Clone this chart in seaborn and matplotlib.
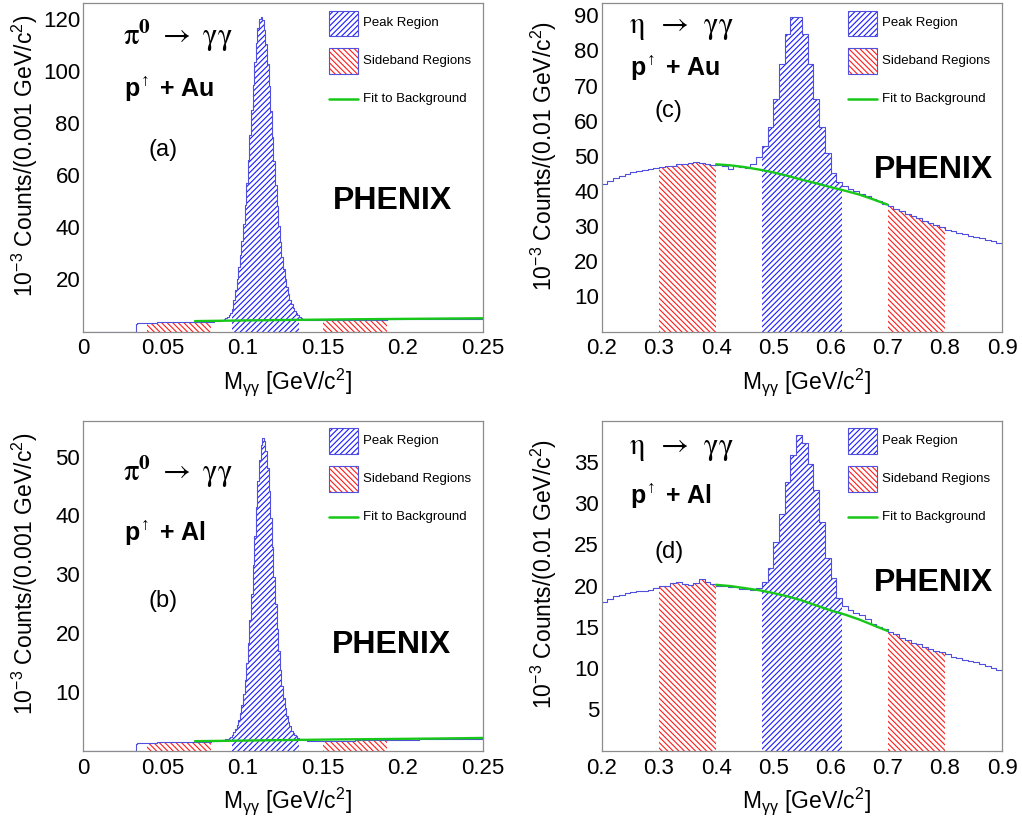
import numpy as np
import matplotlib
matplotlib.use('Agg')
import matplotlib.pyplot as plt
import seaborn as sns
from matplotlib.patches import Rectangle
from matplotlib.ticker import MultipleLocator, FixedLocator, FuncFormatter

sns.set_style('white')
plt.rcParams['font.family'] = ['Liberation Sans', 'DejaVu Sans']
plt.rcParams['text.color'] = 'black'
plt.rcParams['axes.labelcolor'] = 'black'
plt.rcParams['mathtext.fontset'] = 'custom'
plt.rcParams['mathtext.rm'] = 'Liberation Sans'
plt.rcParams['mathtext.bf'] = 'Liberation Sans:bold'
plt.rcParams['mathtext.it'] = 'Liberation Sans:italic'
plt.rcParams['hatch.linewidth'] = 0.8

# ---- pi0 histograms, 0.001 GeV bins from 0 to 0.25 ----
PI0_BINW = 0.001
PI0_AU_COUNTS = [0.0] * 33 + [
    3.0, 3.2, 3.3, 3.3, 3.4, 3.4, 3.4,
    3.4, 3.4, 3.4, 3.4, 3.4, 3.4, 3.5, 3.5, 3.5, 3.5,
    3.5, 3.5, 3.5, 3.5, 3.5, 3.5, 3.5, 3.5, 3.5, 3.5,
    3.5, 3.6, 3.6, 3.6, 3.6, 3.6, 3.6, 3.6, 3.6, 3.6,
    3.6, 3.6, 3.6, 3.7, 3.7, 3.7, 3.7, 3.7, 3.7, 3.7,
    3.8, 3.8, 3.9, 4.0, 4.1, 4.2, 4.4, 4.6, 4.8, 5.1,
    5.5, 6.2, 7.3, 8.8, 12.0, 15.8, 20.0, 24.6, 29.2, 34.8,
    41.1, 48.6, 56.8, 65.9, 75.3, 85.1, 94.5, 103.2, 110.6, 116.3,
    119.8, 120.5, 119.3, 115.8, 110.1, 102.7, 94.0, 84.6, 74.8, 65.4,
    56.3, 48.1, 40.6, 34.3, 28.7, 24.1, 20.2, 17.0, 14.4, 12.2,
    10.5, 9.0, 7.9, 7.0, 6.2, 5.6, 5.0, 4.7, 4.5, 4.4,
    4.3, 4.3, 4.3, 4.3, 4.3, 4.3, 4.3, 4.3, 4.3, 4.3,
    4.3, 4.3, 4.3, 4.3, 4.3, 4.3, 4.3, 4.3, 4.3, 4.3,
    4.4, 4.4, 4.4, 4.4, 4.4, 4.4, 4.4, 4.4, 4.4, 4.4,
    4.5, 4.5, 4.5, 4.5, 4.5, 4.5, 4.5, 4.5, 4.5, 4.5,
    4.6, 4.6, 4.6, 4.6, 4.6, 4.6, 4.6, 4.6, 4.6, 4.6,
    4.7, 4.7, 4.7, 4.7, 4.7, 4.7, 4.7, 4.7, 4.7, 4.7,
    4.7, 4.7, 4.7, 4.7, 4.7, 4.7, 4.7, 4.7, 4.7, 4.7,
    4.7, 4.7, 4.7, 4.7, 4.7, 4.7, 4.7, 4.7, 4.7, 4.7,
    4.8, 4.8, 4.8, 4.8, 4.8, 4.8, 4.8, 4.8, 4.8, 4.8,
    4.8, 4.8, 4.8, 4.8, 4.8, 4.8, 4.8, 4.8, 4.8, 4.8,
    4.8, 4.8, 4.8, 4.8, 4.8, 4.8, 4.8, 4.8, 4.8, 4.8,
]
PI0_AL_COUNTS = [0.0] * 33 + [
    1.2, 1.3, 1.3, 1.3, 1.3, 1.3, 1.3,
    1.3, 1.3, 1.3, 1.3, 1.3, 1.3, 1.4, 1.4, 1.4, 1.4,
    1.4, 1.4, 1.4, 1.4, 1.4, 1.4, 1.4, 1.4, 1.4, 1.4,
    1.4, 1.4, 1.4, 1.4, 1.4, 1.4, 1.5, 1.5, 1.5, 1.5,
    1.5, 1.5, 1.5, 1.5, 1.5, 1.5, 1.5, 1.5, 1.5, 1.5,
    1.55, 1.55, 1.55, 1.55, 1.6, 1.65, 1.7, 1.75, 1.8, 1.9,
    2.0, 2.15, 2.35, 2.7, 3.1, 3.6, 4.3, 5.2, 6.4, 7.8,
    9.7, 12.0, 14.9, 18.3, 22.2, 26.7, 31.5, 36.5, 41.4, 45.8,
    49.4, 51.9, 53.1, 52.7, 51.0, 48.1, 44.1, 39.5, 34.6, 29.6,
    24.9, 20.6, 16.9, 13.7, 11.0, 8.9, 7.2, 5.9, 4.9, 4.1,
    3.4, 3.0, 2.6, 2.4, 2.2, 2.05, 1.95, 1.9, 1.85, 1.8,
    1.7, 1.7, 1.7, 1.7, 1.7, 1.7, 1.7, 1.7, 1.7, 1.7,
    1.7, 1.7, 1.7, 1.7, 1.7, 1.7, 1.7, 1.7, 1.7, 1.7,
    1.7, 1.7, 1.7, 1.7, 1.7, 1.7, 1.7, 1.7, 1.7, 1.7,
    1.8, 1.8, 1.8, 1.8, 1.8, 1.8, 1.8, 1.8, 1.8, 1.8,
    1.8, 1.8, 1.8, 1.8, 1.8, 1.8, 1.8, 1.8, 1.8, 1.8,
    1.8, 1.8, 1.8, 1.8, 1.8, 1.8, 1.8, 1.8, 1.8, 1.8,
    1.8, 1.8, 1.8, 1.8, 1.8, 1.8, 1.8, 1.8, 1.8, 1.8,
    1.9, 1.9, 1.9, 1.9, 1.9, 1.9, 1.9, 1.9, 1.9, 1.9,
    1.9, 1.9, 1.9, 1.9, 1.9, 1.9, 1.9, 1.9, 1.9, 1.9,
    1.9, 1.9, 1.9, 1.9, 1.9, 1.9, 1.9, 1.9, 1.9, 1.9,
    1.9, 1.9, 1.9, 1.9, 1.9, 1.9, 1.9, 1.9, 1.9, 1.9,
]
PI0_FIT_X = [0.07, 0.10, 0.13, 0.16, 0.19, 0.22, 0.25]
PI0_AU_FIT_Y = [4.0, 4.25, 4.45, 4.65, 4.8, 4.95, 5.1]
PI0_AL_FIT_Y = [1.6, 1.7, 1.8, 1.9, 1.97, 2.05, 2.15]
PI0_PEAK = (0.093, 0.135)
PI0_SIDEBANDS = [(0.04, 0.08), (0.15, 0.19)]

# ---- eta histograms, 0.01 GeV bins from 0.2 to 0.9 ----
ETA_BINW = 0.01
ETA_AU_COUNTS = [
    41.9, 42.8, 43.6, 44.3, 44.9, 45.3, 45.6, 45.9, 46.2, 46.5,
    46.8, 47.0, 47.2, 47.6, 47.8, 48.0, 48.2, 48.0, 47.6, 47.4,
    47.3, 47.2, 46.2, 47.0, 46.9, 46.6, 47.7, 49.8, 52.8, 58.1,
    66.1, 76.1, 84.6, 89.4, 89.4, 84.6, 76.1, 66.1, 58.1, 50.7,
    45.2, 42.7, 41.5, 40.6, 40.0, 39.2, 38.5, 37.8, 37.2, 36.4,
    35.6, 35.0, 34.2, 33.5, 32.9, 32.3, 31.6, 31.0, 30.3, 29.7,
    29.0, 28.5, 28.1, 27.7, 27.3, 26.9, 26.5, 26.1, 25.7, 25.2,
]
ETA_AL_COUNTS = [
    18.0, 18.4, 18.7, 18.9, 19.1, 19.2, 19.3, 19.4, 19.5, 19.7,
    19.9, 20.0, 20.3, 20.4, 20.2, 20.1, 20.3, 20.8, 20.5, 20.2,
    20.0, 19.9, 19.8, 19.8, 19.6, 19.6, 19.5, 19.7, 20.5, 22.2,
    25.3, 28.7, 32.6, 35.8, 38.3, 37.3, 34.8, 31.6, 27.7, 23.4,
    20.9, 18.5, 17.5, 17.1, 16.7, 16.4, 15.9, 15.3, 15.0, 14.7,
    14.4, 14.1, 13.7, 13.4, 13.1, 12.9, 12.6, 12.3, 12.1, 11.9,
    11.7, 11.4, 11.2, 11.0, 10.9, 10.8, 10.5, 10.3, 10.0, 9.8,
]
ETA_FIT_X = [0.400, 0.425, 0.450, 0.475, 0.500, 0.525, 0.550,
             0.575, 0.600, 0.625, 0.650, 0.675, 0.700]
ETA_AU_FIT_Y = [47.6, 47.3, 46.8, 46.1, 45.3, 44.3, 43.2,
                42.2, 41.1, 40.1, 39.0, 37.6, 36.1]
ETA_AL_FIT_Y = [20.1, 19.95, 19.7, 19.45, 19.1, 18.7, 18.2,
                17.6, 17.0, 16.5, 15.9, 15.2, 14.5]
ETA_PEAK = (0.48, 0.62)
ETA_SIDEBANDS = [(0.30, 0.40), (0.70, 0.80)]

HIST_BLUE = '#5050dc'
PEAK_BLUE = '#1a1aff'
SIDE_RED = '#ff1a1a'
FIT_GREEN = '#18c818'
FRAME_GRAY = '#8c8c8c'
PEAK_HATCH = '/' * 6
SIDE_HATCH = '\\' * 6


def fill_region(ax, edges, counts, lo, hi, color, hatch):
    left = edges[:-1]
    sel = (left >= lo - 1e-9) & (left < hi - 1e-9)
    xs = np.append(left[sel], hi)
    ys = np.append(counts[sel], counts[sel][-1])
    ax.fill_between(xs, 0, ys, step='post', facecolor='none',
                    edgecolor=color, hatch=hatch, linewidth=0)


def draw_legend(ax):
    x0, w = 0.615, 0.072
    ax.add_patch(Rectangle((x0, 0.90), w, 0.077, transform=ax.transAxes,
                           facecolor='none', edgecolor=PEAK_BLUE, hatch=PEAK_HATCH, lw=0))
    ax.add_patch(Rectangle((x0, 0.90), w, 0.077, transform=ax.transAxes,
                           facecolor='none', edgecolor=HIST_BLUE, lw=0.8))
    ax.add_patch(Rectangle((x0, 0.785), w, 0.077, transform=ax.transAxes,
                           facecolor='none', edgecolor=SIDE_RED, hatch=SIDE_HATCH, lw=0))
    ax.add_patch(Rectangle((x0, 0.785), w, 0.077, transform=ax.transAxes,
                           facecolor='none', edgecolor=HIST_BLUE, lw=0.8))
    ax.plot([x0, x0 + w], [0.709, 0.709], transform=ax.transAxes,
            color=FIT_GREEN, lw=1.8)
    ax.text(0.70, 0.9385, 'Peak Region', transform=ax.transAxes, fontsize=9.5, va='center')
    ax.text(0.70, 0.8235, 'Sideband Regions', transform=ax.transAxes, fontsize=9.5, va='center')
    ax.text(0.70, 0.709, 'Fit to Background', transform=ax.transAxes, fontsize=9.5, va='center')


def draw_panel(ax, lo, binw, counts, fit_x, fit_y, peak, sidebands,
               xlim, ylim, xmajor, xminor, ymajor, yminor, ylabel):
    counts = np.asarray(counts, dtype=float)
    edges = np.round(lo + binw * np.arange(len(counts) + 1), 6)
    centers = edges[:-1] + binw / 2

    for s_lo, s_hi in sidebands:
        fill_region(ax, edges, counts, s_lo, s_hi, SIDE_RED, SIDE_HATCH)
    fill_region(ax, edges, counts, peak[0], peak[1], PEAK_BLUE, PEAK_HATCH)

    sns.histplot(x=centers, weights=counts, bins=list(edges), element='step',
                 fill=False, color=HIST_BLUE, linewidth=0.8, ax=ax)
    sns.lineplot(x=fit_x, y=fit_y, color=FIT_GREEN, linewidth=1.7, ax=ax)

    ax.set_xlim(*xlim)
    ax.set_ylim(*ylim)
    ax.xaxis.set_major_locator(FixedLocator(xmajor))
    ax.xaxis.set_minor_locator(MultipleLocator(xminor))
    ax.yaxis.set_major_locator(FixedLocator(ymajor))
    ax.yaxis.set_minor_locator(MultipleLocator(yminor))
    ax.xaxis.set_major_formatter(FuncFormatter(lambda v, p: f'{v:g}'))
    ax.yaxis.set_major_formatter(FuncFormatter(lambda v, p: f'{v:g}'))
    ax.tick_params(axis='both', which='both', direction='in', color=FRAME_GRAY,
                   width=0.8, labelsize=16, labelcolor='black')
    ax.tick_params(axis='y', which='major', length=8.6, pad=2)
    ax.tick_params(axis='y', which='minor', length=4.3)
    ax.tick_params(axis='x', which='major', length=7.6, pad=5)
    ax.tick_params(axis='x', which='minor', length=3.6)
    for sp in ax.spines.values():
        sp.set_color(FRAME_GRAY)
        sp.set_linewidth(0.9)

    ax.set_xlabel(r'M$_{\mathrm{\gamma\gamma}}$ [GeV/c$^{2}$]', fontsize=16.5)
    ax.xaxis.set_label_coords(0.51, -0.105)
    ax.set_ylabel(ylabel, fontsize=16.5)
    ax.yaxis.set_label_coords(-0.1075, 0.535)
    draw_legend(ax)


fig = plt.figure(figsize=(10.22, 8.18), dpi=100)
ax_a = fig.add_axes([0.0812, 0.5947, 0.3914, 0.4016])
ax_c = fig.add_axes([0.5888, 0.5947, 0.3917, 0.4016])
ax_b = fig.add_axes([0.0812, 0.0824, 0.3914, 0.4033])
ax_d = fig.add_axes([0.5888, 0.0824, 0.3917, 0.4033])

pi0_ylabel = r'10$^{-3}$ Counts/(0.001 GeV/c$^{2}$)'
eta_ylabel = r'10$^{-3}$ Counts/(0.01 GeV/c$^{2}$)'
pi0_xticks = [0, 0.05, 0.1, 0.15, 0.2, 0.25]
eta_xticks = [0.2, 0.3, 0.4, 0.5, 0.6, 0.7, 0.8, 0.9]

draw_panel(ax_a, 0.0, PI0_BINW, PI0_AU_COUNTS, PI0_FIT_X, PI0_AU_FIT_Y,
           PI0_PEAK, PI0_SIDEBANDS, (0, 0.25), (0, 126), pi0_xticks, 0.01,
           [20, 40, 60, 80, 100, 120], 5, pi0_ylabel)
draw_panel(ax_b, 0.0, PI0_BINW, PI0_AL_COUNTS, PI0_FIT_X, PI0_AL_FIT_Y,
           PI0_PEAK, PI0_SIDEBANDS, (0, 0.25), (0, 56.1), pi0_xticks, 0.01,
           [10, 20, 30, 40, 50], 2, pi0_ylabel)
draw_panel(ax_c, 0.2, ETA_BINW, ETA_AU_COUNTS, ETA_FIT_X, ETA_AU_FIT_Y,
           ETA_PEAK, ETA_SIDEBANDS, (0.2, 0.9), (0, 93.5), eta_xticks, 0.02,
           [10, 20, 30, 40, 50, 60, 70, 80, 90], 2, eta_ylabel)
draw_panel(ax_d, 0.2, ETA_BINW, ETA_AL_COUNTS, ETA_FIT_X, ETA_AL_FIT_Y,
           ETA_PEAK, ETA_SIDEBANDS, (0.2, 0.9), (0, 40.0), eta_xticks, 0.02,
           [5, 10, 15, 20, 25, 30, 35], 1, eta_ylabel)

pi0_decay = r'$\mathrm{\pi}^{\mathbf{0}}\ \rightarrow\ \mathrm{\gamma\gamma}$'
eta_decay = r'$\mathrm{\eta}\ \,\rightarrow\ \,\mathrm{\gamma\gamma}$'
labels = [
    (ax_a, pi0_decay, 0.10, 0.900,
     r'p$^{\!\uparrow}$ + Au', 0.1025, 0.737, '(a)', 0.165, 0.5535, 0.625, 0.396),
    (ax_b, pi0_decay, 0.10, 0.845,
     r'p$^{\!\uparrow}$ + Al', 0.1025, 0.659, '(b)', 0.164, 0.4535, 0.623, 0.320),
    (ax_c, eta_decay, 0.069, 0.928,
     r'p$^{\!\uparrow}$ + Au', 0.0707, 0.800, '(c)', 0.131, 0.672, 0.681, 0.492),
    (ax_d, eta_decay, 0.069, 0.916,
     r'p$^{\!\uparrow}$ + Al', 0.0707, 0.770, '(d)', 0.131, 0.603, 0.681, 0.507),
]
for ax, decay, dx, dy, system, sx, sy, tag, tx, ty, px, py in labels:
    ax.text(dx, dy, decay, transform=ax.transAxes, fontsize=22, va='center',
            math_fontfamily='stix')
    ax.text(sx, sy, system, transform=ax.transAxes, fontsize=18, va='center',
            fontweight='bold')
    ax.text(tx, ty, tag, transform=ax.transAxes, fontsize=17, va='center')
    ax.text(px, py, 'PHENIX', transform=ax.transAxes, fontsize=23, va='center',
            fontweight='bold')

fig.savefig('out.png', dpi=100)
